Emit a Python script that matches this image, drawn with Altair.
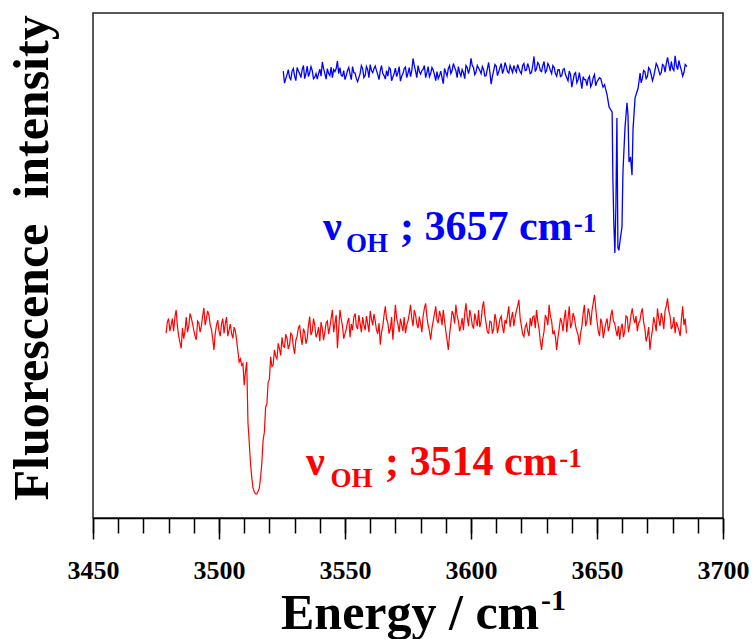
import altair as alt
import pandas as pd

# ---------------- data ----------------
# blue spectrum, samples on whole wavenumbers and through the dip
blue_energy = [
    3525.5, 3526, 3527, 3528, 3529, 3530, 3531, 3532, 3533, 3534,
    3535, 3536, 3537, 3538, 3539, 3540, 3541, 3542, 3543, 3544,
    3545, 3546, 3547, 3548, 3549, 3550, 3551, 3552, 3553, 3554,
    3555, 3556, 3557, 3558, 3559, 3560, 3561, 3562, 3563, 3564,
    3565, 3566, 3567, 3568, 3569, 3570, 3571, 3572, 3573, 3574,
    3575, 3576, 3577, 3578, 3579, 3580, 3581, 3582, 3583, 3584,
    3585, 3586, 3587, 3588, 3589, 3590, 3591, 3592, 3593, 3594,
    3595, 3596, 3597, 3598, 3599, 3600, 3601, 3602, 3603, 3604,
    3605, 3606, 3607, 3608, 3609, 3610, 3611, 3612, 3613, 3614,
    3615, 3616, 3617, 3618, 3619, 3620, 3621, 3622, 3623, 3624,
    3625, 3626, 3627, 3628, 3629, 3630, 3631, 3632, 3633, 3634,
    3635, 3636, 3637, 3638, 3639, 3640, 3641, 3642, 3643, 3644,
    3645, 3646, 3647, 3648, 3649, 3650, 3651, 3652, 3652.4, 3653,
    3654, 3654.8, 3655.5, 3656, 3656.3, 3656.7, 3657.1, 3657.5, 3657.9, 3658.3,
    3658.7, 3659.1, 3659.9, 3660.3, 3661.1, 3661.9, 3662.3, 3662.7, 3663.3, 3663.9,
    3664.3, 3665.1, 3666.3, 3667.1, 3668, 3669, 3670, 3671, 3672, 3673,
    3674, 3675, 3676, 3677, 3678, 3679, 3680, 3681, 3682, 3683,
    3684, 3685, 3685.7,
]
blue_intensity = [
    88.5, 86.1, 87.8, 87.2, 88.5, 87.5, 89.2, 88.0, 88.8, 87.0,
    89.5, 88.2, 88.6, 87.3, 86.9, 88.9, 90.3, 88.0, 89.0, 87.6,
    87.2, 88.4, 90.5, 89.2, 87.5, 86.8, 88.6, 87.9, 89.4, 88.1,
    86.4, 88.0, 89.0, 87.6, 88.8, 89.8, 88.2, 89.5, 87.8, 88.6,
    88.0, 86.9, 87.5, 88.9, 87.3, 89.1, 88.2, 86.5, 88.0, 89.3,
    88.1, 87.4, 91.0, 88.5, 89.6, 87.9, 88.8, 87.2, 89.4, 88.0,
    88.7, 86.6, 87.0, 88.5, 86.0, 88.2, 89.0, 88.0, 90.0, 88.6,
    89.4, 87.5, 88.2, 89.6, 88.0, 91.0, 89.2, 88.3, 89.1, 88.0,
    88.8, 87.6, 90.2, 85.9, 88.6, 89.5, 88.4, 90.0, 88.8, 89.4,
    88.1, 88.9, 89.6, 88.3, 89.0, 88.0, 90.0, 88.7, 89.2, 88.2,
    91.4, 89.0, 89.8, 88.4, 90.4, 88.6, 89.5, 88.0, 89.2, 87.5,
    88.8, 87.6, 89.0, 87.2, 88.5, 85.3, 87.9, 86.2, 88.2, 85.0,
    86.8, 85.6, 87.5, 86.0, 87.8, 86.4, 87.2, 86.0, 85.3, 85.8,
    83.8, 81.4, 80.8, 80.4, 67.3, 58.0, 52.5, 62.0, 79.2, 53.5,
    53.0, 54.7, 57.6, 68.5, 77.2, 82.2, 79.8, 70.5, 71.5, 67.9,
    77.0, 83.2, 85.1, 88.1, 87.0, 88.4, 87.4, 88.8, 86.6, 88.7,
    89.5, 87.8, 89.8, 88.3, 91.2, 88.5, 89.0, 91.5, 88.8, 89.5,
    87.5, 89.8, 89.4,
]
# blue spectrum, extra samples between the whole wavenumbers (baseline noise)
blue_half_energy = [
    3526.5, 3527.5, 3528.5, 3529.5, 3530.5, 3531.5, 3532.5, 3533.5, 3534.5, 3535.5,
    3536.5, 3537.5, 3538.5, 3539.5, 3540.5, 3541.5, 3542.5, 3543.5, 3544.5, 3545.5,
    3546.5, 3547.5, 3548.5, 3549.5, 3550.5, 3551.5, 3552.5, 3553.5, 3554.5, 3555.5,
    3556.5, 3557.5, 3558.5, 3559.5, 3560.5, 3561.5, 3562.5, 3563.5, 3564.5, 3565.5,
    3566.5, 3567.5, 3568.5, 3569.5, 3570.5, 3571.5, 3572.5, 3573.5, 3574.5, 3575.5,
    3576.5, 3577.5, 3578.5, 3579.5, 3580.5, 3581.5, 3582.5, 3583.5, 3584.5, 3585.5,
    3586.5, 3587.5, 3588.5, 3589.5, 3590.5, 3591.5, 3592.5, 3593.5, 3594.5, 3595.5,
    3596.5, 3597.5, 3598.5, 3599.5, 3600.5, 3601.5, 3602.5, 3603.5, 3604.5, 3605.5,
    3606.5, 3607.5, 3608.5, 3609.5, 3610.5, 3611.5, 3612.5, 3613.5, 3614.5, 3615.5,
    3616.5, 3617.5, 3618.5, 3619.5, 3620.5, 3621.5, 3622.5, 3623.5, 3624.5, 3625.5,
    3626.5, 3627.5, 3628.5, 3629.5, 3630.5, 3631.5, 3632.5, 3633.5, 3634.5, 3635.5,
    3636.5, 3637.5, 3638.5, 3639.5, 3640.5, 3641.5, 3642.5, 3643.5, 3644.5, 3645.5,
    3646.5, 3647.5, 3648.5, 3649.5, 3650.5, 3651.5,
    3667.5, 3668.5, 3669.5, 3670.5, 3671.5, 3672.5, 3673.5, 3674.5, 3675.5, 3676.5,
    3677.5, 3678.5, 3679.5, 3680.5, 3681.5, 3682.5, 3683.5, 3684.5,
]
blue_half_intensity = [
    87.0, 88.8, 86.8, 89.0, 86.6, 88.5, 87.2, 89.6, 88.0, 87.4,
    89.4, 87.0, 88.0, 88.0, 87.5, 89.0, 86.9, 88.0, 89.3, 88.8,
    89.0, 88.0, 87.6, 88.6, 87.6, 89.2, 86.8, 88.2, 87.0, 87.2,
    89.6, 87.2, 89.4, 87.2, 88.6, 89.0, 88.6, 86.8, 89.6, 87.6,
    88.6, 89.2, 86.6, 88.0, 87.4, 89.4, 87.5, 89.0, 87.2, 89.2,
    88.6, 89.6, 87.2, 88.4, 88.6, 89.6, 88.2, 87.4, 89.2, 87.8,
    88.4, 87.6, 87.2, 89.0, 87.5, 89.6, 88.6, 89.2, 87.2, 88.2,
    88.8, 87.0, 89.2, 89.0, 89.6, 87.8, 89.6, 88.6, 89.4, 87.5,
    89.0, 88.2, 87.5, 89.8, 87.6, 89.2, 88.0, 90.2, 88.4, 89.6,
    88.2, 88.8, 89.8, 88.4, 89.6, 88.6, 90.0, 88.0, 89.6, 88.4,
    90.2, 88.6, 89.6, 88.2, 90.0, 88.6, 89.6, 88.0, 88.8, 87.4,
    88.8, 87.8, 86.6, 87.8, 86.6, 88.2, 86.8, 86.6, 87.4, 86.8,
    87.0, 85.4, 87.2, 85.6, 86.8, 87.0,
    86.2, 88.6, 87.0, 89.2, 87.8, 87.4, 90.0, 88.6, 88.2, 89.6,
    90.0, 89.8, 90.4, 88.6, 89.6, 90.6, 88.6, 88.2,
]

# red spectrum, samples on whole wavenumbers and through the dip
red_energy = [
    3479, 3480, 3481, 3482, 3483, 3484, 3485, 3486, 3487, 3488,
    3489, 3490, 3491, 3492, 3493, 3494, 3495, 3496, 3497, 3498,
    3499, 3500, 3501, 3502, 3503, 3504, 3505, 3506, 3507, 3507.5,
    3508, 3508.5, 3509, 3509.5, 3510, 3510.5, 3511, 3511.5, 3512, 3512.5,
    3513, 3513.5, 3514, 3514.5, 3515, 3515.5, 3516, 3516.5, 3517, 3517.5,
    3518, 3518.5, 3519, 3519.5, 3520, 3520.5, 3521, 3521.5, 3522, 3523,
    3524, 3525, 3526, 3527, 3528, 3529, 3530, 3531, 3532, 3533,
    3534, 3535, 3536, 3537, 3538, 3539, 3540, 3541, 3542, 3543,
    3544, 3545, 3546, 3547, 3548, 3549, 3550, 3551, 3552, 3553,
    3554, 3555, 3556, 3557, 3558, 3559, 3560, 3561, 3562, 3563,
    3564, 3565, 3566, 3567, 3568, 3569, 3570, 3571, 3572, 3573,
    3574, 3575, 3576, 3577, 3578, 3579, 3580, 3581, 3582, 3583,
    3584, 3585, 3586, 3587, 3588, 3589, 3590, 3591, 3592, 3593,
    3594, 3595, 3596, 3597, 3598, 3599, 3600, 3601, 3602, 3603,
    3604, 3605, 3606, 3607, 3608, 3609, 3610, 3611, 3612, 3613,
    3614, 3615, 3616, 3617, 3618, 3619, 3620, 3621, 3622, 3623,
    3624, 3625, 3626, 3627, 3628, 3629, 3630, 3631, 3632, 3633,
    3634, 3635, 3636, 3637, 3638, 3639, 3640, 3641, 3642, 3643,
    3644, 3645, 3646, 3647, 3648, 3649, 3650, 3651, 3652, 3653,
    3654, 3655, 3656, 3657, 3658, 3659, 3660, 3661, 3662, 3663,
    3664, 3665, 3666, 3667, 3668, 3669, 3670, 3671, 3672, 3673,
    3674, 3675, 3676, 3677, 3678, 3679, 3680, 3681, 3682, 3683,
    3684, 3685, 3685.5,
]
red_intensity = [
    36.6, 39.5, 38.2, 37.0, 41.2, 36.0, 33.6, 35.5, 39.8, 38.0,
    39.6, 37.2, 35.3, 38.6, 38.0, 41.6, 39.5, 40.2, 37.4, 33.3,
    38.2, 37.0, 38.4, 36.6, 39.8, 37.2, 36.5, 37.8, 35.2, 33.0,
    30.9, 31.5, 30.2, 30.6, 26.3, 29.0, 30.9, 18.8, 15.0, 10.9,
    8.0, 5.9, 5.2, 4.8, 4.75, 5.3, 5.9, 8.0, 10.9, 15.4,
    17.0, 22.0, 22.5, 26.9, 27.5, 31.9, 30.0, 30.3, 33.3, 31.5,
    33.5, 35.8, 33.8, 35.5, 34.3, 36.2, 32.5, 36.0, 38.2, 34.3,
    36.8, 35.5, 39.9, 37.0, 38.2, 36.5, 35.0, 37.5, 36.8, 39.0,
    37.8, 41.2, 38.5, 33.6, 41.2, 38.0, 36.5, 38.8, 35.8, 37.2,
    40.5, 37.4, 38.5, 39.8, 37.2, 38.5, 41.0, 38.2, 39.0, 36.5,
    34.3, 38.0, 41.9, 38.6, 37.5, 35.3, 42.2, 38.4, 39.5, 37.0,
    36.6, 39.0, 42.2, 38.0, 40.2, 37.6, 38.5, 40.0, 42.5, 38.2,
    35.3, 39.0, 41.9, 38.6, 40.0, 41.2, 37.0, 33.3, 38.5, 40.3,
    42.2, 39.0, 38.0, 37.2, 42.5, 38.0, 40.0, 37.5, 39.2, 41.2,
    39.0, 42.9, 38.5, 36.6, 38.8, 37.5, 39.2, 38.0, 40.0, 36.6,
    38.5, 41.9, 39.5, 38.0, 41.0, 43.2, 38.0, 35.9, 38.5, 36.0,
    38.0, 40.0, 41.2, 37.5, 33.3, 37.0, 39.5, 42.2, 39.0, 37.0,
    33.3, 37.5, 38.8, 39.5, 36.8, 41.9, 38.5, 39.8, 37.0, 34.3,
    38.0, 42.2, 39.0, 40.5, 41.0, 44.2, 39.0, 36.0, 38.5, 37.2,
    39.5, 38.0, 41.2, 38.6, 36.0, 35.3, 38.5, 37.0, 39.8, 38.2,
    41.5, 38.6, 37.0, 39.0, 41.5, 37.5, 36.0, 33.3, 37.2, 38.6,
    41.5, 38.0, 39.5, 41.0, 43.5, 40.0, 38.0, 36.6, 38.0, 36.0,
    41.9, 39.5, 36.6,
]
# red spectrum, extra samples between the whole wavenumbers (baseline noise)
red_half_energy = [
    3479.5, 3480.5, 3481.5, 3482.5, 3483.5, 3484.5, 3485.5, 3486.5, 3487.5, 3488.5,
    3489.5, 3490.5, 3491.5, 3492.5, 3493.5, 3494.5, 3495.5, 3496.5, 3497.5, 3498.5,
    3499.5, 3500.5, 3501.5, 3502.5, 3503.5, 3504.5, 3505.5, 3506.5,
    3522.5, 3523.5, 3524.5, 3525.5, 3526.5, 3527.5, 3528.5, 3529.5, 3530.5, 3531.5,
    3532.5, 3533.5,
    3534.5, 3535.5, 3536.5, 3537.5, 3538.5, 3539.5, 3540.5, 3541.5, 3542.5, 3543.5,
    3544.5, 3545.5, 3546.5, 3547.5, 3548.5, 3549.5, 3550.5, 3551.5, 3552.5, 3553.5,
    3554.5, 3555.5, 3556.5, 3557.5, 3558.5, 3559.5, 3560.5, 3561.5, 3562.5, 3563.5,
    3564.5, 3565.5, 3566.5, 3567.5, 3568.5, 3569.5, 3570.5, 3571.5, 3572.5, 3573.5,
    3574.5, 3575.5, 3576.5, 3577.5, 3578.5, 3579.5, 3580.5, 3581.5, 3582.5, 3583.5,
    3584.5, 3585.5, 3586.5, 3587.5, 3588.5, 3589.5, 3590.5, 3591.5, 3592.5, 3593.5,
    3594.5, 3595.5, 3596.5, 3597.5, 3598.5, 3599.5, 3600.5, 3601.5, 3602.5, 3603.5,
    3604.5, 3605.5, 3606.5, 3607.5, 3608.5, 3609.5, 3610.5, 3611.5, 3612.5, 3613.5,
    3614.5, 3615.5, 3616.5, 3617.5, 3618.5, 3619.5, 3620.5, 3621.5, 3622.5, 3623.5,
    3624.5, 3625.5, 3626.5, 3627.5, 3628.5, 3629.5, 3630.5, 3631.5, 3632.5, 3633.5,
    3634.5, 3635.5, 3636.5, 3637.5, 3638.5, 3639.5, 3640.5, 3641.5, 3642.5, 3643.5,
    3644.5, 3645.5, 3646.5, 3647.5, 3648.5, 3649.5, 3650.5, 3651.5, 3652.5, 3653.5,
    3654.5, 3655.5, 3656.5, 3657.5, 3658.5, 3659.5, 3660.5, 3661.5, 3662.5, 3663.5,
    3664.5, 3665.5, 3666.5, 3667.5, 3668.5, 3669.5, 3670.5, 3671.5, 3672.5, 3673.5,
    3674.5, 3675.5, 3676.5, 3677.5, 3678.5, 3679.5, 3680.5, 3681.5, 3682.5, 3683.5,
    3684.5,
]
red_half_intensity = [
    38.8, 37.0, 39.5, 39.8, 38.0, 34.8, 37.6, 37.0, 36.8, 40.5,
    38.5, 36.0, 39.0, 36.8, 40.0, 38.2, 41.0, 38.2, 35.5, 36.5,
    39.2, 36.0, 39.5, 38.5, 36.0, 38.4, 35.6, 37.0,
    32.0, 34.6, 32.2, 34.0, 36.4, 33.5, 36.6, 34.0, 35.2, 37.6,
    35.8, 37.5,
    34.5, 38.2, 36.2, 39.5, 35.8, 37.8, 38.8, 35.2, 38.6, 36.4,
    39.6, 36.8, 40.2, 37.5, 39.4, 35.5, 37.4, 39.6, 38.4, 39.8,
    38.0, 40.2, 36.8, 38.2, 40.0, 36.8, 39.4, 40.4, 37.2, 38.6,
    36.8, 40.2, 39.4, 36.5, 39.8, 38.6, 39.5, 36.8, 38.2, 39.8,
    38.2, 40.4, 39.6, 41.2, 38.4, 39.9, 36.8, 41.5, 39.8, 37.0,
    37.6, 40.4, 39.2, 41.0, 38.2, 39.0, 35.2, 36.4, 41.0, 38.5,
    40.0, 37.0, 39.6, 40.5, 39.8, 41.2, 38.2, 40.5, 38.0, 37.8,
    41.6, 40.2, 36.8, 39.0, 36.5, 40.4, 36.6, 39.4, 37.8, 39.2,
    40.2, 37.8, 40.8, 39.8, 42.0, 39.6, 36.4, 37.8, 37.0, 39.6,
    39.8, 37.6, 39.0, 35.0, 35.6, 40.2, 38.2, 40.0, 36.4, 35.8,
    35.8, 39.6, 37.0, 41.2, 39.5, 37.6, 40.6, 38.0, 36.2, 36.6,
    40.5, 38.0, 41.5, 38.2, 42.6, 41.5, 37.0, 39.5, 35.6, 38.6,
    37.0, 40.2, 39.0, 37.2, 38.0, 37.5, 35.8, 40.0, 36.8, 40.2,
    39.6, 40.0, 38.6, 40.6, 38.8, 35.0, 37.8, 35.6, 39.8, 37.0,
    39.4, 40.6, 37.4, 42.0, 41.0, 37.4, 39.8, 38.8, 37.2, 39.4,
    38.2,
]

major_ticks = [3450, 3500, 3550, 3600, 3650, 3700]
minor_ticks = [3450, 3460, 3470, 3480, 3490, 3500, 3510, 3520, 3530, 3540,
               3550, 3560, 3570, 3580, 3590, 3600, 3610, 3620, 3630, 3640,
               3650, 3660, 3670, 3680, 3690, 3700]

# annotations (texts placed in data coordinates)
ann_text = ["ν", "OH", "; 3657 cm", "-1",
            "ν", "OH", "; 3514 cm", "-1",
            "Energy / cm", "-1"]
ann_energy = [3541.3, 3550.4, 3571.8, 3640.8,
              3534.5, 3544.2, 3565.9, 3635.0,
              3524.6, 3627.8]
ann_intensity = [55.0, 52.7, 55.0, 56.6,
                 8.5, 6.1, 8.5, 10.1,
                 -22.0, -18.2]
ann_size = [42, 27, 42, 27, 42, 27, 42, 27, 50, 30]
ann_color = ["#0000ff"] * 4 + ["#ff0000"] * 4 + ["#000000"] * 2

ytitle_text = ["Fluorescence\u00a0 intensity"]
ytitle_energy = [3432.1]
ytitle_intensity = [51.5]

x_domain = [3450, 3700]
y_domain = [0, 100]

# ---------------- chart ----------------
blue_df = pd.DataFrame({
    "energy": blue_energy + blue_half_energy,
    "intensity": blue_intensity + blue_half_intensity,
}).sort_values("energy")
red_df = pd.DataFrame({
    "energy": red_energy + red_half_energy,
    "intensity": red_intensity + red_half_intensity,
}).sort_values("energy")
ann_df = pd.DataFrame({"text": ann_text, "energy": ann_energy,
                       "intensity": ann_intensity, "size": ann_size,
                       "color": ann_color})
yt_df = pd.DataFrame({"text": ytitle_text, "energy": ytitle_energy,
                      "intensity": ytitle_intensity})
minor_df = pd.DataFrame({"tick": minor_ticks})

xs = alt.Scale(domain=x_domain, nice=False, zero=False)
ys = alt.Scale(domain=y_domain, nice=False, zero=False)

major_axis = alt.Axis(values=major_ticks, tickSize=21, tickWidth=1.5,
                      tickColor="black", domainColor="black", domainWidth=1.5,
                      labelFont="Liberation Serif", labelFontWeight="bold",
                      labelFontSize=26, labelColor="black", labelPadding=18,
                      labelFlush=False, labelOverlap=False, title=None,
                      grid=False, orient="bottom", format="d")
minor_axis = alt.Axis(values=minor_ticks, tickSize=15, tickWidth=1.5,
                      tickColor="black", labels=False, domain=False,
                      title=None, grid=False, orient="bottom")
y_axis = alt.Axis(ticks=False, labels=False, title=None, grid=False,
                  domainColor="black", domainWidth=1.5)

blue = alt.Chart(blue_df).mark_line(color="#0000ff", strokeWidth=1.3).encode(
    x=alt.X("energy:Q", scale=xs, axis=major_axis),
    y=alt.Y("intensity:Q", scale=ys, axis=y_axis),
)
red = alt.Chart(red_df).mark_line(color="#ff0000", strokeWidth=1.2).encode(
    x=alt.X("energy:Q", scale=xs, axis=None),
    y=alt.Y("intensity:Q", scale=ys, axis=None),
)
minor = alt.Chart(minor_df).mark_point(opacity=0).encode(
    x=alt.X("tick:Q", scale=xs, axis=minor_axis),
    y=alt.value(0),
)
ann = alt.Chart(ann_df).mark_text(
    font="Liberation Serif", fontWeight="bold", align="left",
    baseline="alphabetic"
).encode(
    x=alt.X("energy:Q", scale=xs, axis=None),
    y=alt.Y("intensity:Q", scale=ys, axis=None),
    text="text:N",
    size=alt.Size("size:Q", scale=None, legend=None),
    color=alt.Color("color:N", scale=None, legend=None),
)
ytitle = alt.Chart(yt_df).mark_text(
    font="Liberation Serif", fontWeight="bold", fontSize=50, angle=270,
    align="center", baseline="alphabetic", color="black"
).encode(
    x=alt.X("energy:Q", scale=xs, axis=None),
    y=alt.Y("intensity:Q", scale=ys, axis=None),
    text="text:N",
)

chart = alt.layer(blue, red, minor, ann, ytitle).resolve_scale(
    x="independent"
).properties(
    width=630, height=505,
    autosize=alt.AutoSizeParams(type="none"),
    padding={"left": 93, "top": 13, "right": 30, "bottom": 121},
    background="white",
).configure_view(stroke="#222222", strokeWidth=1.5)

chart.save("out.html", embed_options={"renderer": "svg", "actions": False})
